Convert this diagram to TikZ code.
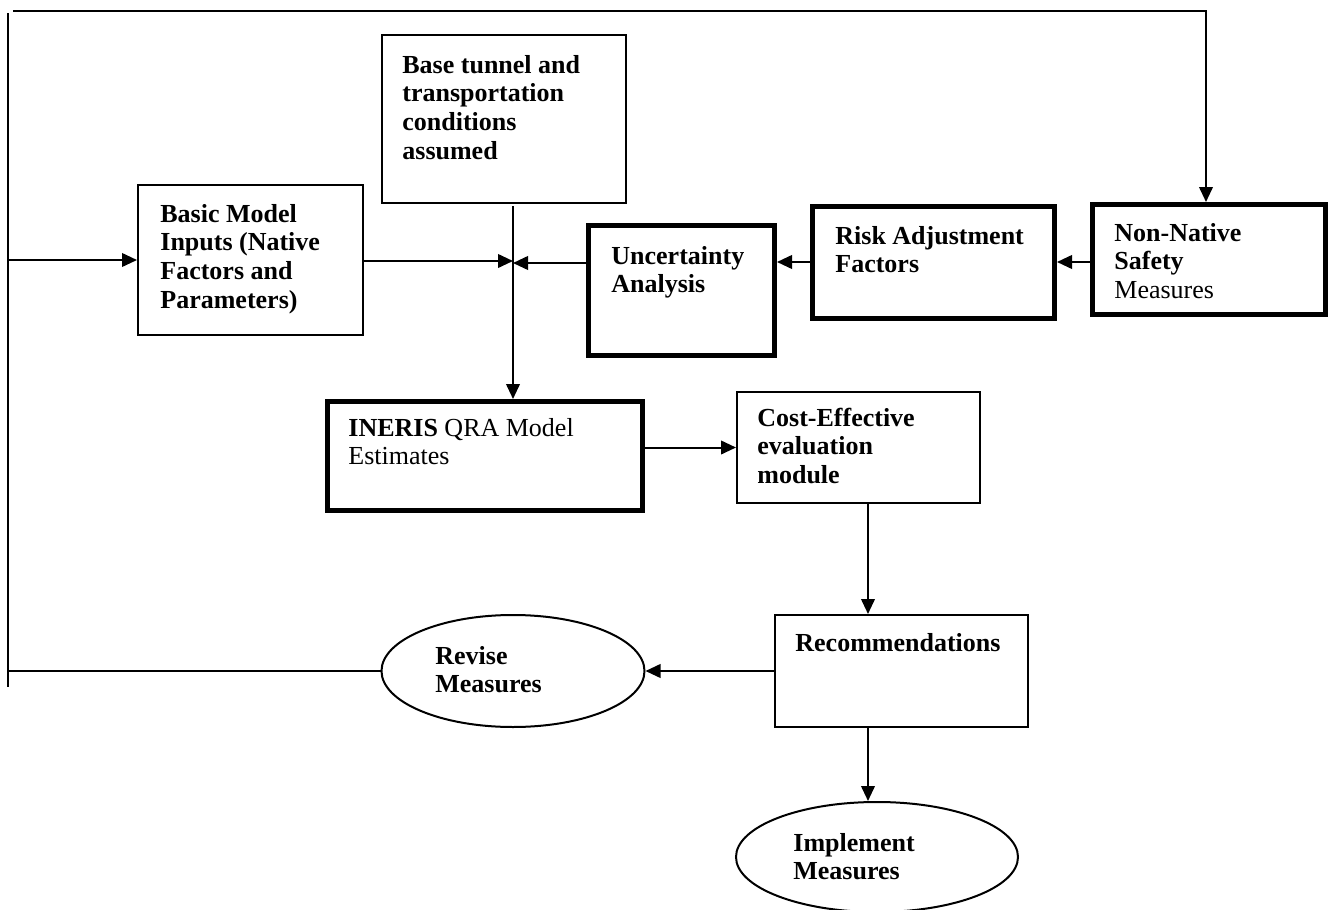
\documentclass[tikz,border=0pt]{standalone}
\usepackage{fontspec}
\setmainfont{Liberation Serif}
\usetikzlibrary{arrows.meta,shapes.geometric}
\newcommand\tlines[1]{\parbox[t]{220pt}{\raggedright\fontsize{13}{14.4}\selectfont #1}}
\begin{document}
\begin{tikzpicture}[x=0.5pt,y=-0.5pt,
  box/.style={draw, line width=1pt, rectangle, inner sep=0pt},
  tbox/.style={box, line width=2.5pt},
  oval/.style={draw, line width=1pt, ellipse, inner sep=0pt},
  lbl/.style={anchor=base west, inner sep=0pt, font=\bfseries},
  arr/.style={-{Triangle[length=7.5pt,width=6.8pt]}, line width=1pt},
  ln/.style={line width=1pt}]
\useasboundingbox (0,0) rectangle (1330,910);

% boxes
\node[box, minimum width=122pt, minimum height=84pt] (base) at (504,119) {};
\node[box, minimum width=112.5pt, minimum height=75pt] (basic) at (250.5,260) {};
\node[tbox, minimum width=93pt, minimum height=65pt] (unc) at (681.5,290.5) {};
\node[tbox, minimum width=121pt, minimum height=56pt] (risk) at (933.5,262.5) {};
\node[tbox, minimum width=116.5pt, minimum height=55pt] (nonnat) at (1209,259.5) {};
\node[tbox, minimum width=157.5pt, minimum height=54.5pt] (ineris) at (485,456) {};
\node[box, minimum width=121.5pt, minimum height=55.5pt] (cost) at (858.5,447.5) {};
\node[box, minimum width=126.5pt, minimum height=56pt] (rec) at (901.5,671) {};
\node[oval, minimum width=131.5pt, minimum height=56pt] (revise) at (513,671) {};
\node[oval, minimum width=141pt, minimum height=55pt] (impl) at (877,857) {};

% texts
\node[lbl] (baset) at (402,73) {\tlines{Base tunnel and\\transportation\\conditions\\assumed}};
\node[lbl] (basict) at (160,222) {\tlines{Basic Model\\Inputs (Native\\Factors and\\Parameters)}};
\node[lbl] (unct) at (611,264) {\tlines{Uncertainty\\Analysis}};
\node[lbl] (riskt) at (835,244) {\tlines{Risk Adjustment\\Factors}};
\node[lbl, font=\mdseries] (nonnatt) at (1114,241) {\tlines{\textbf{Non-Native}\\\textbf{Safety}\\Measures}};
\node[lbl, font=\mdseries] (inerist) at (348,436) {\tlines{\textbf{INERIS} QRA Model\\Estimates}};
\node[lbl] (costt) at (757,426) {\tlines{Cost-Effective\\evaluation\\module}};
\node[lbl] (rect) at (795,651) {\tlines{Recommendations}};
\node[lbl] (reviset) at (435,664) {\tlines{Revise\\Measures}};
\node[lbl] (implt) at (793,851) {\tlines{Implement\\Measures}};

% helper coordinates
\coordinate (lt) at (8,13);
\coordinate (lb) at (8,687);
\coordinate (tl) at (13,11);
\coordinate (tr) at (1206,11);
\coordinate (j) at (513,261);
\coordinate (vt) at (513,206);
\coordinate (cx) at (868,0);

% connectors
\draw[ln] (lt) -- (lb);
\draw[ln] (revise.west) -- (revise.west -| lt);
\draw[arr] (basic.west -| lt) -- (basic.west);
\draw[arr] (tl) -- (tr) -- (tr |- nonnat.north);
\draw[arr] (basic.east |- j) -- (j);
\draw[arr] (unc.west |- 0,263) -- (j |- 0,263);
\draw[arr] (vt) -- (vt |- ineris.north);
\draw[arr] (risk.west |- 0,262) -- (unc.east |- 0,262);
\draw[arr] (nonnat.west |- 0,262) -- (risk.east |- 0,262);
\draw[arr] (ineris.east |- cost.west) -- (cost.west);
\draw[arr] (cost.south -| cx) -- (rec.north -| cx);
\draw[arr] (rec.west) -- (revise.east);
\draw[arr] (rec.south -| cx) -- (cx |- impl.north);
\end{tikzpicture}
\end{document}
